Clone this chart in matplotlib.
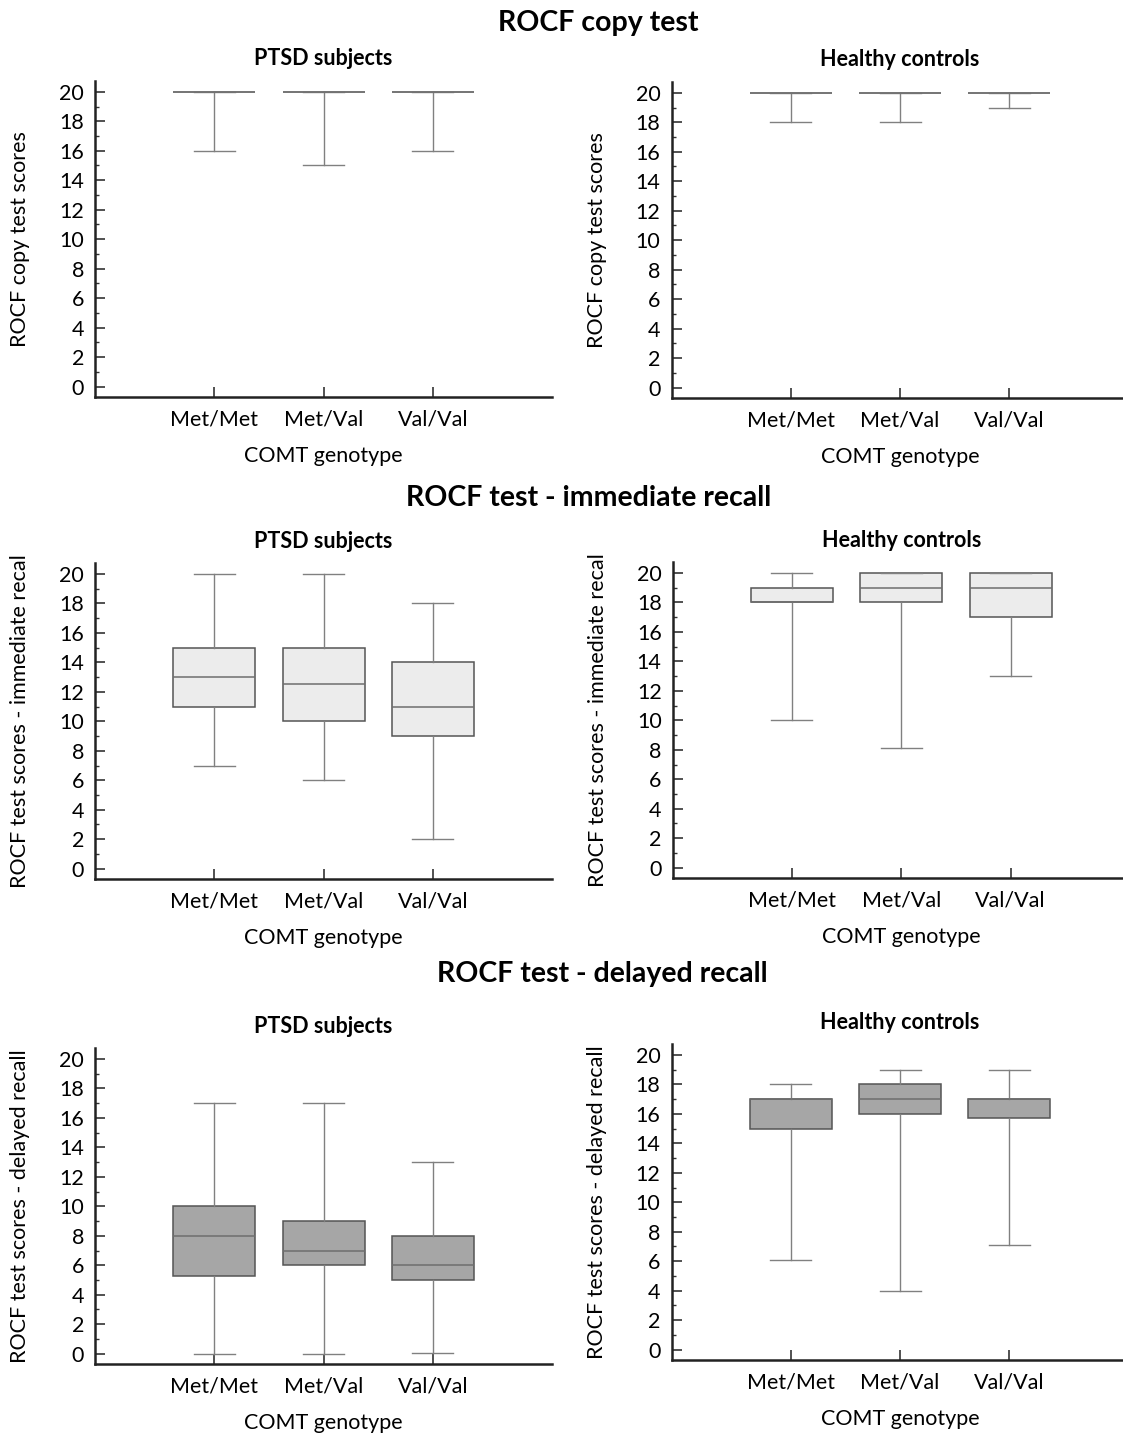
import matplotlib
matplotlib.use('Agg')
import matplotlib.pyplot as plt
from matplotlib.ticker import MultipleLocator

plt.rcParams['font.family'] = ['Lato', 'DejaVu Sans']

# -------------------------
# Data
# -------------------------
genotypes = ['Met/Met', 'Met/Val', 'Val/Val']

# ROCF copy test
copy_ptsd_lo = [16, 15, 16]
copy_ptsd_q1 = [20, 20, 20]
copy_ptsd_med = [20, 20, 20]
copy_ptsd_q3 = [20, 20, 20]
copy_ptsd_hi = [20, 20, 20]

copy_hc_lo = [18, 18, 19]
copy_hc_q1 = [20, 20, 20]
copy_hc_med = [20, 20, 20]
copy_hc_q3 = [20, 20, 20]
copy_hc_hi = [20, 20, 20]

# ROCF immediate recall
imm_ptsd_lo = [7, 6, 2]
imm_ptsd_q1 = [11, 10, 9]
imm_ptsd_med = [13, 12.5, 11]
imm_ptsd_q3 = [15, 15, 14]
imm_ptsd_hi = [20, 20, 18]

imm_hc_lo = [10, 8.1, 13]
imm_hc_q1 = [18, 18, 17]
imm_hc_med = [18, 19, 19]
imm_hc_q3 = [19, 20, 20]
imm_hc_hi = [20, 20, 20]

# ROCF delayed recall
del_ptsd_lo = [0, 0, 0.05]
del_ptsd_q1 = [5.25, 6, 5]
del_ptsd_med = [8, 7, 6]
del_ptsd_q3 = [10, 9, 8]
del_ptsd_hi = [17, 17, 13]

del_hc_lo = [6.1, 4, 7.1]
del_hc_q1 = [15, 16, 15.75]
del_hc_med = [17, 17, 17]
del_hc_q3 = [17, 18, 17]
del_hc_hi = [18, 19, 19]


def make_stats(lo, q1, med, q3, hi):
    return [dict(whislo=a, q1=b, med=c, q3=d, whishi=e, fliers=[], label=g)
            for a, b, c, d, e, g in zip(lo, q1, med, q3, hi, genotypes)]


rows = [
    ('ROCF copy test', 'ROCF copy test scores', 'white', '#777777',
     make_stats(copy_ptsd_lo, copy_ptsd_q1, copy_ptsd_med, copy_ptsd_q3, copy_ptsd_hi),
     make_stats(copy_hc_lo, copy_hc_q1, copy_hc_med, copy_hc_q3, copy_hc_hi)),
    ('ROCF test - immediate recall', 'ROCF test scores - immediate recal', '#ececec', '#555555',
     make_stats(imm_ptsd_lo, imm_ptsd_q1, imm_ptsd_med, imm_ptsd_q3, imm_ptsd_hi),
     make_stats(imm_hc_lo, imm_hc_q1, imm_hc_med, imm_hc_q3, imm_hc_hi)),
    ('ROCF test - delayed recall', 'ROCF test scores - delayed recall', '#a6a6a6', '#555555',
     make_stats(del_ptsd_lo, del_ptsd_q1, del_ptsd_med, del_ptsd_q3, del_ptsd_hi),
     make_stats(del_hc_lo, del_hc_q1, del_hc_med, del_hc_q3, del_hc_hi)),
]

# axes positions (left, bottom) for each row: [PTSD, healthy]
positions = [
    [(0.0846, 0.7232), (0.598, 0.7225)],
    [(0.0846, 0.3870), (0.599, 0.3877)],
    [(0.0846, 0.0488), (0.598, 0.0516)],
]
row_title_xy = [(0.533, 0.984), (0.524, 0.653), (0.536, 0.321)]
W, H = 0.407, 0.2205

fig = plt.figure(figsize=(11.23, 14.34), dpi=100)

for r, (row_title, ylab, fill, edge, st_ptsd, st_hc) in enumerate(rows):
    fig.text(row_title_xy[r][0], row_title_xy[r][1], row_title, ha='center', va='center',
             fontsize=20.5, fontweight='bold')
    for c, (stats, sub) in enumerate([(st_ptsd, 'PTSD subjects'), (st_hc, 'Healthy controls')]):
        x0, y0 = positions[r][c]
        ax = fig.add_axes([x0, y0, W, H])
        ax.bxp(stats, positions=[1, 2, 3], widths=0.75, showfliers=False,
               patch_artist=True,
               boxprops=dict(facecolor=fill, edgecolor=edge, linewidth=1.1),
               whiskerprops=dict(color='#808080', linewidth=1.0),
               capprops=dict(color='#808080', linewidth=1.0),
               medianprops=dict(color='#6e6e6e', linewidth=1.1))
        ax.set_xlim(-0.09, 4.09)
        ax.set_ylim(-0.7, 20.75)
        ax.yaxis.set_major_locator(MultipleLocator(2))
        ax.yaxis.set_minor_locator(MultipleLocator(1))
        ax.set_xticks([1, 2, 3])
        ax.set_xticklabels(genotypes)
        for s in ['top', 'right']:
            ax.spines[s].set_visible(False)
        for s in ['left', 'bottom']:
            ax.spines[s].set_linewidth(1.8)
            ax.spines[s].set_color('#222222')
        ax.tick_params(axis='y', which='major', direction='in', length=7,
                       width=1.2, color='#333333', labelsize=15.5, pad=8)
        ax.tick_params(axis='y', which='minor', direction='in', length=2.6,
                       width=1.0, color='#333333')
        ax.tick_params(axis='x', which='major', direction='in', length=7,
                       width=1.2, color='#333333', labelsize=15.5, pad=9)
        ax.set_title(sub, fontsize=15.5, fontweight='bold', pad=11)
        ax.set_xlabel('COMT genotype', fontsize=15.5, labelpad=12)
        ax.set_ylabel(ylab, fontsize=15.5)
        ax.yaxis.set_label_coords(-0.142, 0.5)

fig.savefig('out.png', dpi=100)
